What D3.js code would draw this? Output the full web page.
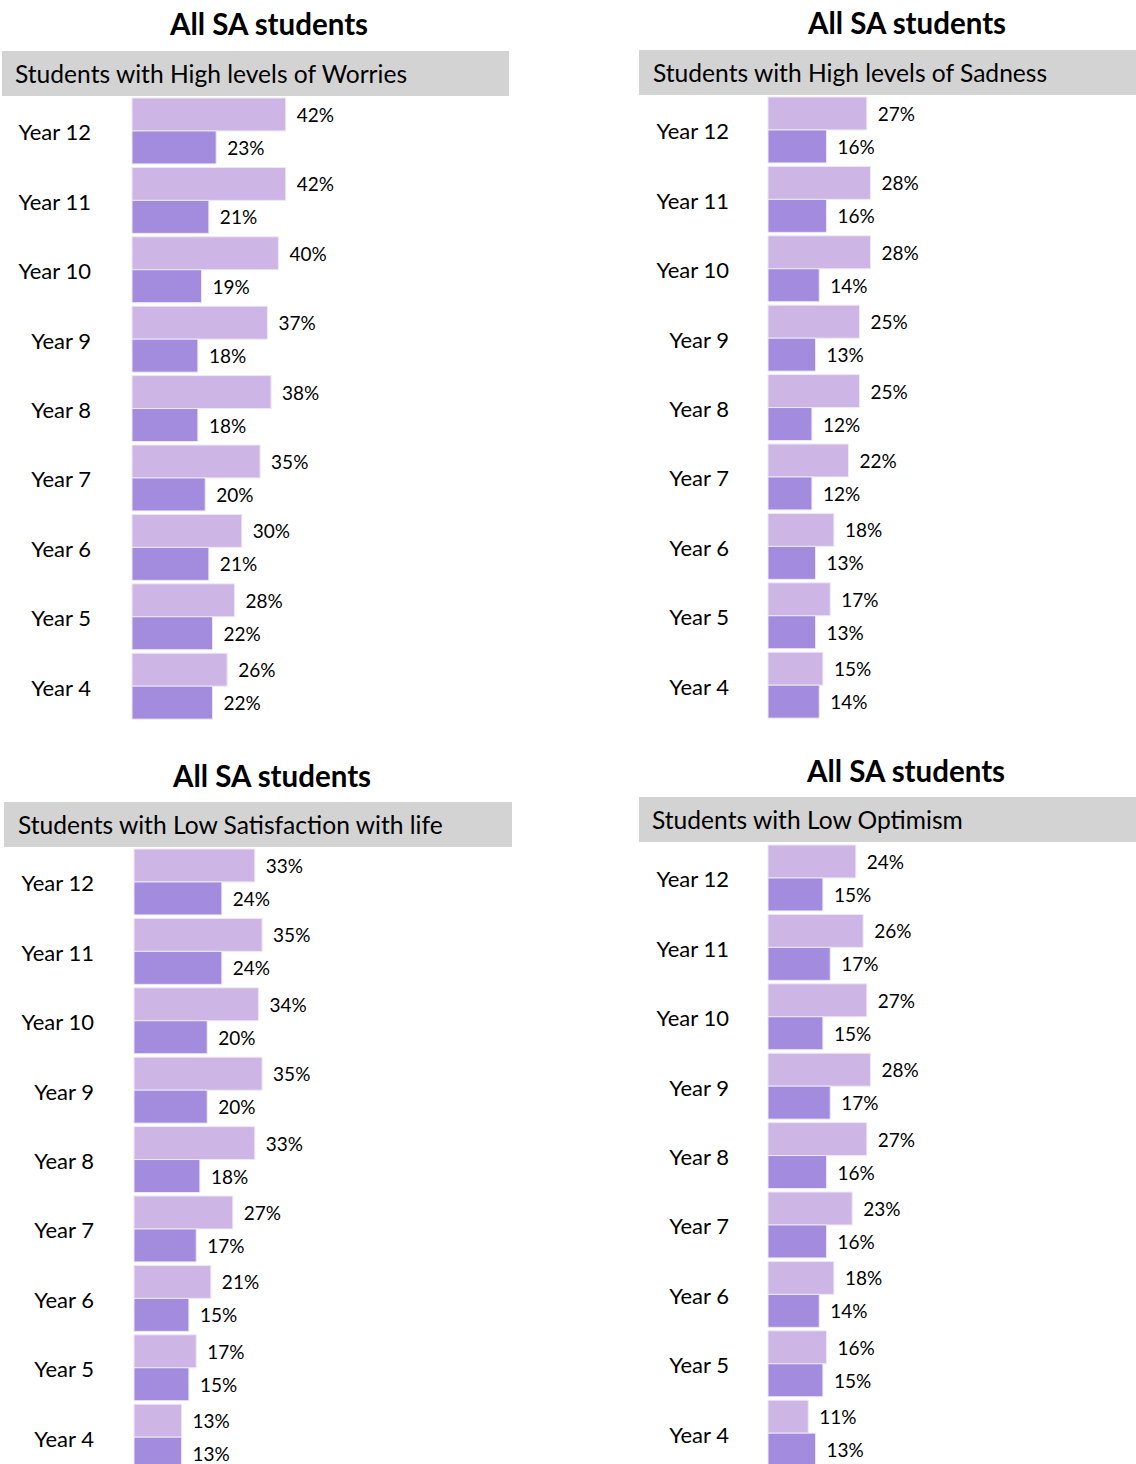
<!DOCTYPE html>
<html>
<head>
<meta charset="utf-8">
<script src="https://cdn.jsdelivr.net/npm/d3@7"></script>
<style>
  html, body { margin: 0; padding: 0; background: #fff; }
  svg { display: block; font-family: Lato, "Open Sans", sans-serif; }
</style>
</head>
<body>
<svg id="chart" width="1136" height="1464"></svg>
<script>
// ---- data ----
const years = ["Year 12", "Year 11", "Year 10", "Year 9", "Year 8", "Year 7", "Year 6", "Year 5", "Year 4"];
const seriesNames = ["Series 1", "Series 2"];
const mainTitle = "All SA students";
const panelTitles = [
  "Students with High levels of Worries",
  "Students with High levels of Sadness",
  "Students with Low Satisfaction with life",
  "Students with Low Optimism"
];
const worriesLight = [42, 42, 40, 37, 38, 35, 30, 28, 26];
const worriesDark  = [23, 21, 19, 18, 18, 20, 21, 22, 22];
const sadnessLight = [27, 28, 28, 25, 25, 22, 18, 17, 15];
const sadnessDark  = [16, 16, 14, 13, 12, 12, 13, 13, 14];
const satisfactionLight = [33, 35, 34, 35, 33, 27, 21, 17, 13];
const satisfactionDark  = [24, 24, 20, 20, 18, 17, 15, 15, 13];
const optimismLight = [24, 26, 27, 28, 27, 23, 18, 16, 11];
const optimismDark  = [15, 17, 15, 17, 16, 16, 14, 15, 13];

// ---- layout (per panel) ----
const panels = [
  { title: panelTitles[0], light: worriesLight, dark: worriesDark,
    titleX: 269, titleY: 35, bandX: 2, bandY: 51, bandW: 507, textX: 15, barX: 132, barsTop: 98, labelRight: 91 },
  { title: panelTitles[1], light: sadnessLight, dark: sadnessDark,
    titleX: 907, titleY: 34, bandX: 639, bandY: 50, bandW: 497, textX: 653, barX: 768, barsTop: 97, labelRight: 729 },
  { title: panelTitles[2], light: satisfactionLight, dark: satisfactionDark,
    titleX: 272, titleY: 787, bandX: 4, bandY: 802, bandW: 508, textX: 18, barX: 134, barsTop: 849, labelRight: 94 },
  { title: panelTitles[3], light: optimismLight, dark: optimismDark,
    titleX: 906, titleY: 782, bandX: 639, bandY: 797, bandW: 497, textX: 652, barX: 768, barsTop: 845, labelRight: 729 }
];
const colors = { light: "#CDB6E5", dark: "#A38BDD" };
const bandH = 45;
const groupStep = 69.4;
const groupPad = 0.05;

const svg = d3.select("#chart");

panels.forEach(p => {
  const g = svg.append("g");

  // main title
  g.append("text")
    .attr("x", p.titleX).attr("y", p.titleY)
    .attr("text-anchor", "middle")
    .attr("font-size", 29.5).attr("font-weight", "bold").attr("fill", "#000")
    .text(mainTitle);

  // grey header band
  g.append("rect")
    .attr("x", p.bandX).attr("y", p.bandY)
    .attr("width", p.bandW).attr("height", bandH)
    .attr("fill", "#D3D3D3");
  g.append("text")
    .attr("x", p.textX).attr("y", p.bandY + bandH / 2)
    .attr("dominant-baseline", "central")
    .attr("font-size", 24.6).attr("fill", "#000")
    .text(p.title);

  // scales
  const x = d3.scaleLinear().domain([0, 50]).range([p.barX, p.barX + 183]);
  const y = d3.scaleBand().domain(years)
    .range([p.barsTop, p.barsTop + groupStep * (years.length - groupPad)])
    .paddingInner(groupPad).paddingOuter(0).align(0);
  const ySub = d3.scaleBand().domain(seriesNames).range([0, y.bandwidth()]);

  const rows = years.map((yr, i) => ({ yr, vals: [p.light[i], p.dark[i]] }));

  const grp = g.selectAll("g.row").data(rows).join("g")
    .attr("class", "row")
    .attr("transform", d => `translate(0,${y(d.yr)})`);

  grp.selectAll("rect").data(d => d.vals.map((v, k) => ({ v, s: seriesNames[k], k })))
    .join("rect")
    .attr("x", x(0))
    .attr("y", d => ySub(d.s))
    .attr("width", d => x(d.v) - x(0))
    .attr("height", ySub.bandwidth())
    .attr("fill", d => d.k === 0 ? colors.light : colors.dark)
    .attr("stroke", "#EEE8F7").attr("stroke-width", 1);

  grp.selectAll("text.val").data(d => d.vals.map((v, k) => ({ v, s: seriesNames[k] })))
    .join("text")
    .attr("class", "val")
    .attr("x", d => x(d.v) + 11)
    .attr("y", d => ySub(d.s) + ySub.bandwidth() / 2)
    .attr("dominant-baseline", "central")
    .attr("font-size", 19).attr("fill", "#000")
    .text(d => d.v + "%");

  grp.append("text")
    .attr("x", p.labelRight)
    .attr("y", y.bandwidth() / 2 + 1)
    .attr("text-anchor", "end")
    .attr("dominant-baseline", "central")
    .attr("font-size", 22).attr("fill", "#000")
    .text(d => d.yr);
});
</script>
</body>
</html>
